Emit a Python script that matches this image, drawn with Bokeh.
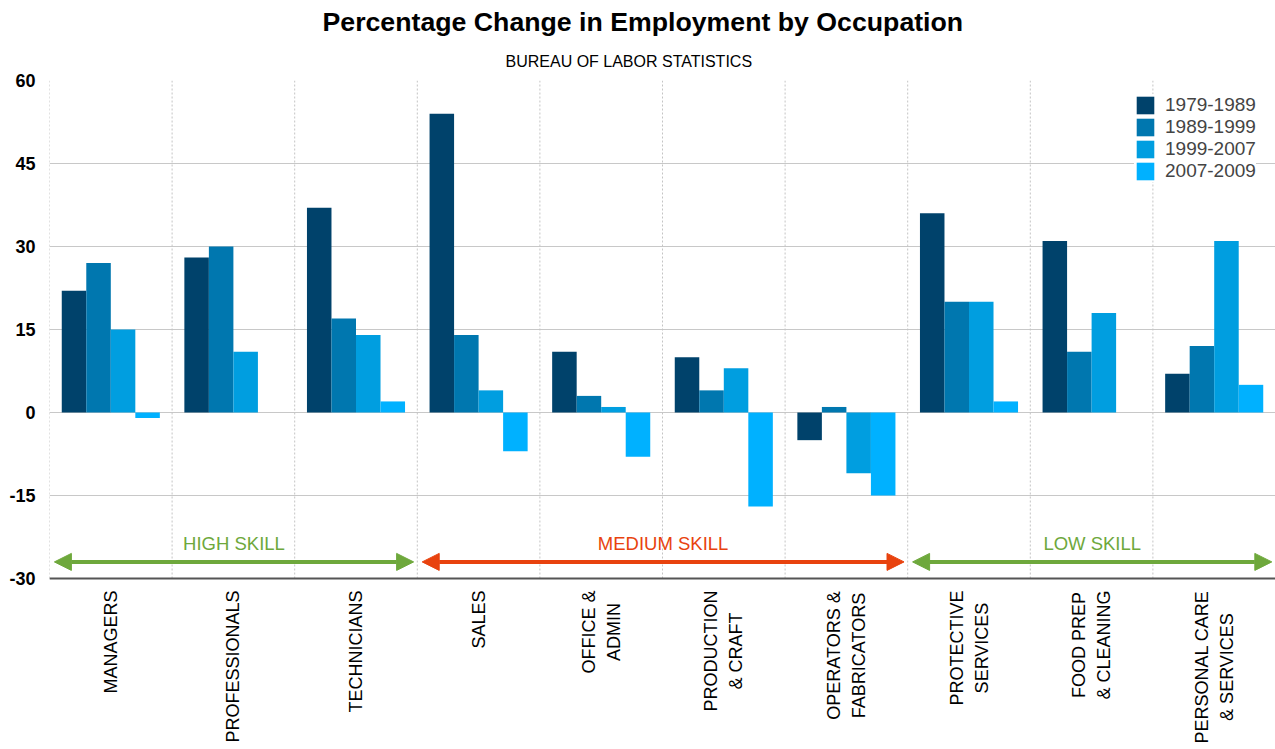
import math
from bokeh.plotting import figure
from bokeh.models import FixedTicker, Arrow, NormalHead, Label, Title, ColumnDataSource
from bokeh.core.properties import value
from bokeh.embed import file_html
from bokeh.resources import INLINE

# ---------------- data ----------------
occupations = ["MANAGERS", "PROFESSIONALS", "TECHNICIANS", "SALES",
               "OFFICE &\nADMIN", "PRODUCTION\n& CRAFT", "OPERATORS &\nFABRICATORS",
               "PROTECTIVE\nSERVICES", "FOOD PREP\n& CLEANING", "PERSONAL CARE\n& SERVICES"]
periods = ["1979-1989", "1989-1999", "1999-2007", "2007-2009"]
change_1979_1989 = [22, 28, 37, 54, 11, 10, -5, 36, 31, 7]
change_1989_1999 = [27, 30, 17, 14, 3, 4, 1, 20, 11, 12]
change_1999_2007 = [15, 11, 14, 4, 1, 8, -11, 20, 18, 31]
change_2007_2009 = [-1, 0, 2, -7, -8, -17, -15, 2, 0, 5]
skill_groups = ["HIGH SKILL", "MEDIUM SKILL", "LOW SKILL"]
skill_first = [0, 3, 7]
skill_last = [2, 6, 9]
y_ticks = [-30, -15, 0, 15, 30, 45, 60]

series = [change_1979_1989, change_1989_1999, change_1999_2007, change_2007_2009]
colors = ["#00426B", "#0077AF", "#009EE0", "#00B1FF"]
skill_colors = ["#6EA83C", "#E8420E", "#6EA83C"]
FONT = "Liberation Sans"

# Arial / Liberation Sans advance widths (per 1000 em) for label measuring
ARIAL_W = dict(A=667, B=667, C=722, D=722, E=667, F=611, G=778, H=722, I=278, J=500,
               K=667, L=556, M=833, N=722, O=778, P=667, Q=778, R=722, S=667, T=611,
               U=722, V=667, W=944, X=667, Y=667, Z=611)
ARIAL_W["&"] = 667
ARIAL_W[" "] = 278


def text_width(s, size):
    return sum(ARIAL_W.get(c, 600) for c in s) / 1000.0 * size


# layout: value axis spans y_ticks over 498 px; the frame extends below for category labels
TOP, AXIS_PX, BELOW_PX = 80, 498, 171
ymin, ymax = y_ticks[0], y_ticks[-1]
px_per_unit = AXIS_PX / (ymax - ymin)
y_bottom = ymin - BELOW_PX / px_per_unit

n = len(occupations)
p = figure(width=1275, height=749, output_backend="svg", toolbar_location=None,
           x_range=(0, n), y_range=(y_bottom, ymax),
           min_border_left=49, min_border_right=0, min_border_top=TOP,
           min_border_bottom=0, tools="")
p.outline_line_color = None
p.background_fill_color = "white"
p.xaxis.visible = False

# grids
p.xgrid.visible = False
p.ygrid.ticker = FixedTicker(ticks=y_ticks)
p.ygrid.grid_line_color = "#c8c8c8"
p.ygrid.grid_line_width = 1
p.segment(x0=list(range(n + 1)), y0=[ymin] * (n + 1), x1=list(range(n + 1)),
          y1=[ymax] * (n + 1), line_color="#c4c4c4", line_dash="2 2", line_width=1)

offsets = [-0.3, -0.1, 0.1, 0.3]
for vals, per, col, off in zip(series, periods, colors, offsets):
    src = ColumnDataSource(dict(x=[i + 0.5 + off for i in range(n)], top=vals))
    p.vbar(x="x", top="top", bottom=0, width=0.2, source=src, fill_color=col,
           line_color=None, legend_label=per)

# category axis line
p.segment(x0=[0], y0=[ymin], x1=[n], y1=[ymin], line_color="#555555", line_width=2)

# y axis
p.yaxis.ticker = FixedTicker(ticks=y_ticks)
p.yaxis.major_label_overrides = {t: str(t) for t in y_ticks}
p.yaxis.axis_line_color = None
p.yaxis.major_tick_line_color = None
p.yaxis.major_tick_out = 0
p.yaxis.major_tick_in = 0
p.yaxis.minor_tick_line_color = None
p.yaxis.major_label_text_font = FONT
p.yaxis.major_label_text_font_style = "bold"
p.yaxis.major_label_text_font_size = "18px"
p.yaxis.major_label_text_color = "black"
p.yaxis.major_label_standoff = 14

# category labels (vertical, lines centred, block starting just below the axis)
LABEL_SIZE = 18
lab_x, lab_y = [], []
for i, lab in enumerate(occupations):
    longest = max(text_width(line, LABEL_SIZE) for line in lab.split("\n"))
    lab_x.append(i + 0.5)
    lab_y.append(ymin - (12 + longest / 2) / px_per_unit)
p.text(x=lab_x, y=lab_y, text=occupations, angle=math.pi / 2,
       text_align="center", text_baseline="middle", text_font=value(FONT),
       text_font_size=f"{LABEL_SIZE}px", text_color="black", text_line_height=1.25)

# skill arrows
for name, a, b, col in zip(skill_groups, skill_first, skill_last, skill_colors):
    x0 = a + 0.04
    x1 = b + 1 - 0.03
    p.add_layout(Arrow(x_start=x0, y_start=-27, x_end=x1, y_end=-27,
                       line_color=col, line_width=4,
                       start=NormalHead(size=17, fill_color=col, line_color=col, line_width=1),
                       end=NormalHead(size=17, fill_color=col, line_color=col, line_width=1)))
    p.add_layout(Label(x=(x0 + x1) / 2, y=-23.6, text=name, text_align="center",
                       text_baseline="middle", text_color=col, text_font=FONT,
                       text_font_size="18.5px"))

# legend
lg = p.legend[0]
lg.location = (1085, 567)
lg.border_line_color = None
lg.background_fill_color = "white"
lg.background_fill_alpha = 1
lg.label_text_font = FONT
lg.label_text_font_size = "19px"
lg.label_height = 22
lg.glyph_height = 22
lg.glyph_width = 22
lg.spacing = 0
lg.padding = 4
lg.margin = 0
lg.label_standoff = 9

# titles
p.add_layout(Title(text="BUREAU OF LABOR STATISTICS", align="left", offset=456,
                   text_font=FONT, text_font_size="16px", text_font_style="normal",
                   text_color="black", standoff=22), "above")
p.add_layout(Title(text="Percentage Change in Employment by Occupation", align="left",
                   offset=273, text_font=FONT, text_font_size="26.7px",
                   text_font_style="bold", text_color="black", standoff=5), "above")

open("out.html", "w").write(file_html(p, INLINE))
